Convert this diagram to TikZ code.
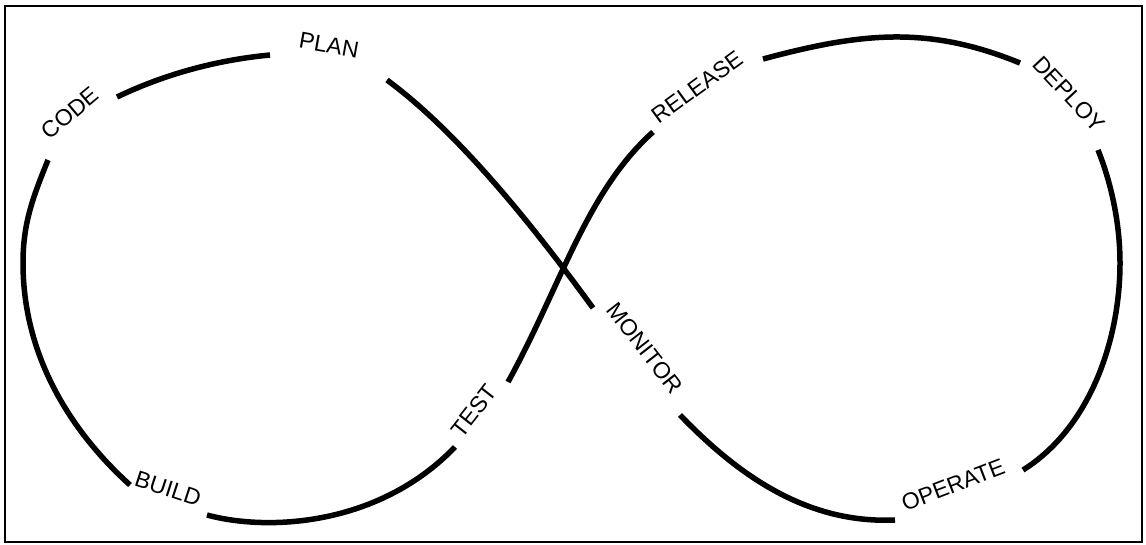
\documentclass[tikz,border=0pt]{standalone}
\usepackage{fontspec}
\setmainfont{Liberation Sans}
\begin{document}
\begin{tikzpicture}[x=1pt,y=-1pt,
  loopline/.style={line width=5.5pt, black},
  lbl/.style={font=\fontsize{23}{27}\selectfont, inner sep=0pt, anchor=center}]
\useasboundingbox (0,0) rectangle (1146,544);
\draw[line width=2pt] (4.5,6) rectangle (1141.5,541.5);
% loop segments
\draw[loopline] (117,97) .. controls (165,74) and (217,60) .. (270,55);
\draw[loopline] (48,160) .. controls (33,197) and (23,223) .. (23,263)
                         .. controls (23,363) and (78,438) .. (130,485);
\draw[loopline] (207,515) .. controls (270,532) and (380,525) .. (455,447);
\draw[loopline] (508,382) .. controls (561,286) and (586,192) .. (653,132);
\draw[loopline] (763,59) .. controls (860,33) and (927,25) .. (1020,63);
\draw[loopline] (1098,150) .. controls (1112,185) and (1120,225) .. (1120,263)
                           .. controls (1120,340) and (1090,428) .. (1023,470);
\draw[loopline] (895,520) .. controls (805,524) and (736,473) .. (680,415);
\draw[loopline] (593,308) .. controls (534,227) and (459,133) .. (387,80);
% labels
\node[lbl, rotate=-10] (plan) at (329,45) {PLAN};
\node[lbl, rotate=40] (code) at (70,113) {CODE};
\node[lbl, rotate=-18] (build) at (168,489) {BUILD};
\node[lbl, rotate=52] (test) at (474,411) {TEST};
\node[lbl, rotate=-52] (monitor) at (645,348) {MONITOR};
\node[lbl, rotate=36] (release) at (697,87) {RELEASE};
\node[lbl, rotate=-47] (deploy) at (1069,94) {DEPLOY};
\node[lbl, rotate=21] (operate) at (953,485) {OPERATE};
\end{tikzpicture}
\end{document}
